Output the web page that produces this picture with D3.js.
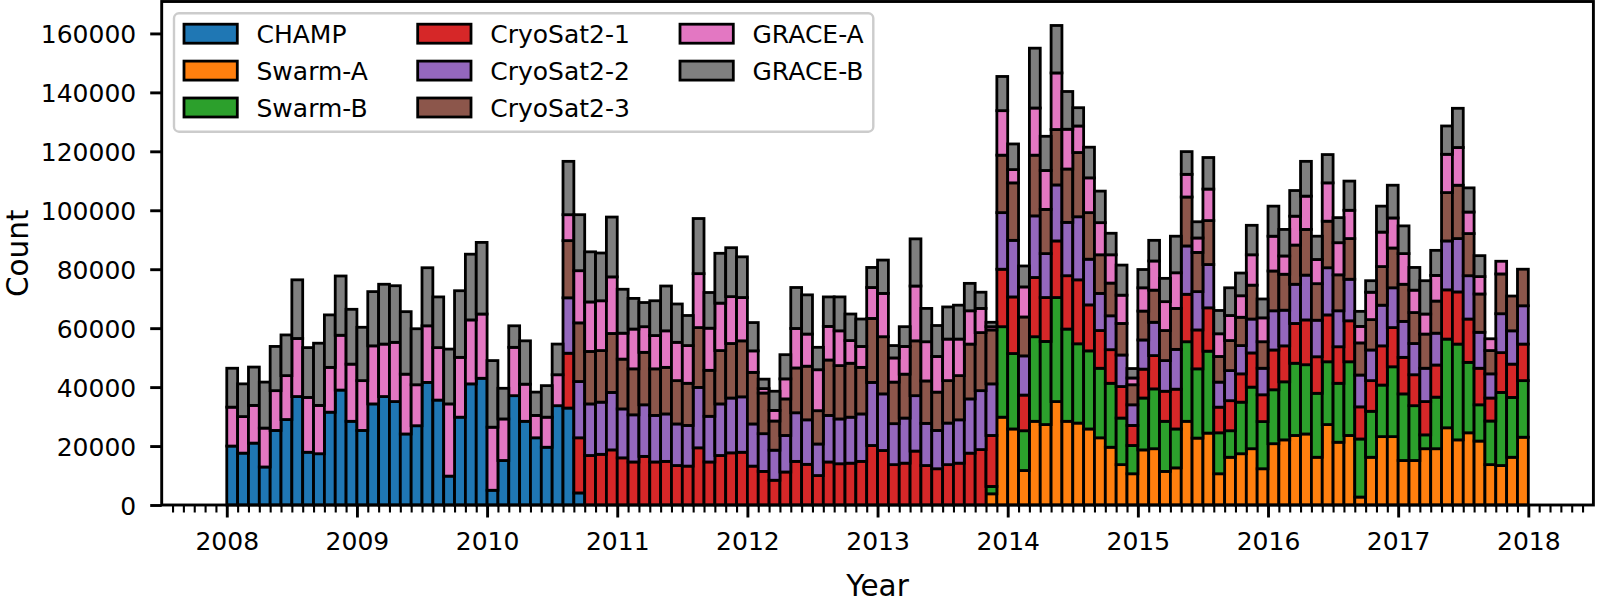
<!DOCTYPE html>
<html><head><meta charset="utf-8">
<script src="https://cdn.jsdelivr.net/npm/d3@7"></script>
<style>
body{margin:0;background:#fff}
svg{display:block}
text{font-family:"DejaVu Sans",sans-serif;fill:#000}
</style>
</head><body>
<svg id="chart" width="1598" height="603"></svg>
<script>
// ---------------- data ----------------
const seriesNames = ["CHAMP","Swarm-A","Swarm-B","CryoSat2-1","CryoSat2-2","CryoSat2-3","GRACE-A","GRACE-B"];
const seriesColors = ["#1f77b4","#ff7f0e","#2ca02c","#d62728","#9467bd","#8c564b","#e377c2","#7f7f7f"];
const firstYear = 2008;
const monthCount = 120;           // monthly bins Jan 2008 .. Dec 2017
const yearTicks = [2008,2009,2010,2011,2012,2013,2014,2015,2016,2017,2018];
const countTicks = [0,20000,40000,60000,80000,100000,120000,140000,160000];

// each series: first month index (0 = Jan 2008) and monthly counts
const champStart = 0;
const champ = [20000,17600,21000,12900,25300,29000,36800,17900,17400,31500,
  39000,28400,25300,34300,36800,35100,24100,26900,41600,35600,
  9800,29800,41100,43000,5000,15100,37100,28400,22800,19600,
  33700,32900,4100];

const swarmAStart = 70;
const swarmA = [3800,29800,25800,11700,28400,27300,35100,28400,27800,25800,
  22800,19600,13700,10600,18700,19100,11400,12600,28400,22700,
  24400,10600,16200,17400,19100,12300,20800,22100,23600,24100,
  16200,27300,21300,23600,2700,16200,23200,23200,15100,15100,
  19100,19100,26200,22100,24500,21700,13700,13400,16200,23000];

const swarmBStart = 70;
const swarmB = [2500,30700,25600,13500,28700,28200,35300,31300,26900,26500,
  23600,21700,15800,9600,17600,20300,17000,13200,27000,23500,
  27800,13900,9000,17500,20900,16000,18300,19700,24500,23500,
  21700,21300,20000,25000,19700,15600,17500,23700,22600,18600,
  4700,17500,30100,32500,23900,12300,14800,24800,20300,19200];

const cryo1Start = 31;
const cryo1 = [18600,18700,16800,17200,18700,16000,14600,16500,14600,
  14800,13400,13200,19400,14600,16800,17700,17900,13200,11400,
  8400,11200,14800,13800,10000,14600,14000,14200,14800,20200,
  18500,13700,14200,18300,13400,12300,13700,14200,17600,18800,
  17300,19500,19200,12100,20100,14900,19200,18100,21700,15600,
  12800,11400,10700,6800,9800,11300,10200,13500,16100,13200,
  14700,8700,10200,9600,11600,9100,13500,12200,13500,15200,
  12400,15900,12400,13900,10900,10400,13300,13300,12400,10500,
  11300,10900,16700,17700,14700,12400,7800,13500,11300,12400];

const cryo2Start = 31;
const cryo2 = [18800,19100,17500,17700,19500,16600,16000,17500,15800,
  16100,14100,13800,20500,15500,17500,18600,18800,14300,12800,
  10200,12400,16500,15100,10700,15800,15200,15600,16100,21400,
  19200,13900,15300,18800,14300,13000,14100,14700,18400,20000,
  17500,19200,19200,13300,20900,14900,19000,18100,21400,15500,
  12600,11500,10700,7000,9900,11300,10400,13500,16400,13000,
  14700,8500,10200,9600,11500,9000,13300,12100,13300,15200,
  12400,16000,12200,14100,10800,10400,13800,13500,12200,10600,
  11300,10800,16600,18100,14700,12200,8200,13200,11300,13000];

const cryo3Start = 31;
const cryo3 = [19400,19900,17800,17500,20000,16900,15600,17800,15800,
  15800,14700,14300,20300,15600,18100,18500,19000,17500,13800,
  9900,12400,15200,18200,11300,18800,18100,18300,15800,21700,
  19400,14100,14900,18600,14400,13000,14400,15000,18600,19700,
  18300,19500,19500,13200,20600,15000,18800,18100,21800,15800,
  13100,11100,10700,6800,9800,10900,10200,13900,16600,13300,
  14900,8700,10200,9600,11500,9000,13500,12200,13300,15500,
  12400,15800,12200,13800,10900,10300,13100,13500,12600,10500,
  11600,10900,16400,18100,14300,13000,7900,13500,11800,12400];

const graceAStart = 0;
const graceA = [13200,12400,12800,13200,13500,14900,19700,18600,16400,15200,
  18600,19400,16900,19700,17800,20100,20300,13900,19200,17800,
  24500,20300,21700,21800,21400,14100,16400,12600,7600,10200,
  10500,8800,17700,16800,16900,19200,8800,13500,8700,11300,
  12400,13000,12800,18300,14300,16100,15900,14700,7300,1500,
  3600,6800,13400,10900,13900,11400,11800,7700,7100,10500,
  14700,8200,9400,18600,13300,12100,14100,12400,11300,8200,
  1100,15100,4500,10200,16000,13200,19200,13500,9000,11800,
  10900,9600,9600,2300,7900,9900,9800,12100,7700,4900,
  10700,7700,8500,7300,10300,8100,11800,6200,9800,11300,
  8200,13000,10900,9600,5600,9300,11700,10200,10400,7600,
  6800,8700,13000,12800,7300,5900,4000,4300];

const graceBStart = 0;
const graceB = [13200,11100,13000,15600,15000,13800,19900,16900,21100,17800,
  20100,18600,18100,18400,20300,19200,21200,19000,19700,17200,
  18600,22600,22300,24300,22600,10400,7300,14700,7900,10700,
  10400,18100,19000,17000,16200,20300,14900,10400,8200,11800,
  15200,13000,10200,18700,12100,16900,16600,13800,9600,3200,
  6500,8200,13900,13300,7600,10000,11500,9000,9300,6800,
  11300,4200,6700,16000,11300,10500,10900,11500,9300,5500,
  1500,11600,8700,7100,20300,11600,16100,12800,6200,10400,
  10700,7300,10200,3200,6200,7000,7900,12400,7700,5500,
  10700,7900,9400,7700,10000,6400,10200,9000,8700,11800,
  7900,9600,8500,9900,5100,3900,8800,11100,9400,7700,
  11300,8500,9600,13300,8200,7100];

const seriesTable = [
  {start: champStart, values: champ},
  {start: swarmAStart, values: swarmA},
  {start: swarmBStart, values: swarmB},
  {start: cryo1Start, values: cryo1},
  {start: cryo2Start, values: cryo2},
  {start: cryo3Start, values: cryo3},
  {start: graceAStart, values: graceA},
  {start: graceBStart, values: graceB}
];

// ---------------- layout ----------------
const W = 1598, H = 603;
const plotL = 161.7, plotR = 1593.4, plotT = 1.5, plotB = 505;
const FS = 25;      // tick / legend font
const LFS = 29.5;   // axis label font

const rows = d3.range(monthCount).map(i => {
  const r = {t: firstYear + i / 12};
  seriesNames.forEach((k, s) => {
    const j = i - seriesTable[s].start;
    const v = seriesTable[s].values;
    r[k] = (j >= 0 && j < v.length) ? v[j] : 0;
  });
  return r;
});
const stacked = d3.stack().keys(seriesNames)(rows);
const maxTotal = d3.max(stacked[stacked.length - 1], d => d[1]);

const x = d3.scaleLinear().domain([firstYear - 0.5, firstYear + monthCount / 12 + 0.5]).range([plotL, plotR]);
const y = d3.scaleLinear().domain([0, maxTotal * 1.05]).range([plotB, plotT]);

const svg = d3.select("#chart");
svg.append("rect").attr("width", W).attr("height", H).attr("fill", "#fff");

// bars
const gBars = svg.append("g");
stacked.forEach((layer, s) => {
  gBars.append("g")
    .selectAll("rect")
    .data(layer.filter(d => d[1] - d[0] > 0))
    .join("rect")
    .attr("x", d => x(d.data.t))
    .attr("width", d => x(d.data.t + 1 / 12) - x(d.data.t))
    .attr("y", d => y(d[1]))
    .attr("height", d => y(d[0]) - y(d[1]))
    .attr("fill", seriesColors[s])
    .attr("stroke", "#000")
    .attr("stroke-width", 2.8)
    .attr("stroke-linejoin", "miter");
});

// minor x ticks (monthly)
const minorVals = d3.range(-5, monthCount + 6).map(m => firstYear + m / 12)
  .filter(v => Math.abs(v - Math.round(v)) > 1e-6 && v > x.domain()[0] + 1e-6 && v < x.domain()[1] - 1e-6);
const gMinor = svg.append("g").attr("transform", `translate(0,${plotB})`)
  .call(d3.axisBottom(x).tickValues(minorVals).tickSize(7.5).tickFormat(""));
gMinor.select(".domain").remove();
gMinor.selectAll("line").attr("stroke", "#000").attr("stroke-width", 2.1);

// major x ticks
const gX = svg.append("g").attr("transform", `translate(0,${plotB})`)
  .call(d3.axisBottom(x).tickValues(yearTicks).tickSize(12.5).tickPadding(15).tickFormat(d3.format("d")));
gX.select(".domain").remove();
gX.selectAll("line").attr("stroke", "#000").attr("stroke-width", 2.9);
gX.selectAll("text").attr("font-size", FS).attr("font-family", "DejaVu Sans").attr("fill", "#000");

// y ticks
const gY = svg.append("g").attr("transform", `translate(${plotL},0)`)
  .call(d3.axisLeft(y).tickValues(countTicks).tickSize(11.5).tickPadding(14).tickFormat(d3.format("d")));
gY.select(".domain").remove();
gY.selectAll("line").attr("stroke", "#000").attr("stroke-width", 2.9);
gY.selectAll("text").attr("font-size", FS).attr("font-family", "DejaVu Sans").attr("fill", "#000").attr("dy", "0.36em");

// spines
svg.append("rect").attr("x", plotL).attr("y", plotT).attr("width", plotR - plotL).attr("height", plotB - plotT)
  .attr("fill", "none").attr("stroke", "#000").attr("stroke-width", 2.9);

// axis labels
svg.append("text").attr("x", (plotL + plotR) / 2).attr("y", 595.5).attr("text-anchor", "middle")
  .attr("font-size", LFS).text("Year");
svg.append("text").attr("transform", `translate(27.5,${(plotT + plotB) / 2}) rotate(-90)`)
  .attr("text-anchor", "middle").attr("font-size", LFS).text("Count");

// legend
const lg = svg.append("g");
lg.append("rect").attr("x", 174).attr("y", 13.3).attr("width", 699.3).attr("height", 118.4)
  .attr("rx", 5).attr("ry", 5).attr("fill", "#fff").attr("fill-opacity", 0.8)
  .attr("stroke", "#cccccc").attr("stroke-width", 2.4);
const colX = [184, 417.7, 680];
const rowY = [33.7, 70.6, 107.5];
seriesNames.forEach((name, i) => {
  const c = Math.floor(i / 3), r = i % 3;
  const gx = colX[c], gy = rowY[r];
  lg.append("rect").attr("x", gx).attr("y", gy - 9.5).attr("width", 53.3).attr("height", 19)
    .attr("fill", seriesColors[i]).attr("stroke", "#000").attr("stroke-width", 2.8);
  lg.append("text").attr("x", gx + 72.5).attr("y", gy + 9).attr("font-size", FS).text(name);
});
</script>
</body></html>
